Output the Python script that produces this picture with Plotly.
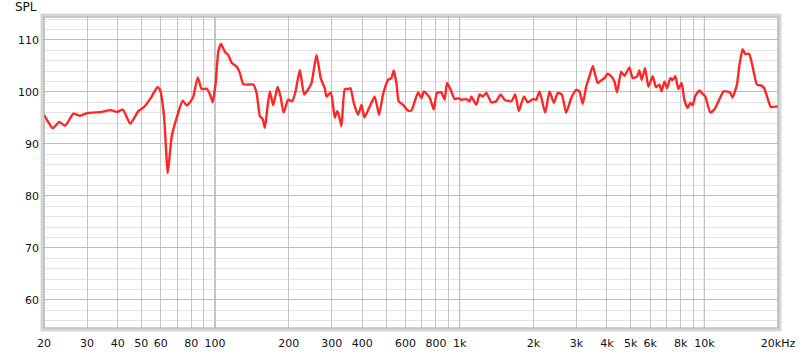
import plotly.graph_objects as go

# Frequency response readings (Hz, dB SPL)
freq_hz = [20.0, 20.7, 21.7, 23.1, 24.4, 26.4, 28.1, 29.9, 34.5, 37.3, 39.7, 42.0, 45.0, 48.6,
           51.3, 55.1, 58.1, 59.6, 61.9, 64.1, 66.5, 69.7, 73.8, 76.6, 79.0, 81.5, 85.0, 88.2,
           92.5, 95.4, 97.8, 100.6, 103.1, 105.8, 109.8, 113.3, 116.9, 122.5, 126.4, 130.4,
           134.6, 143.3, 147.9, 152.6, 156.5, 159.9, 164.0, 167.6, 172.9, 180.2, 185.3, 190.7,
           199.1, 206.7, 213.4, 222.2, 231.4, 241.8, 248.0, 260.0, 270.6, 281.0, 285.6, 297.4,
           308.8, 315.6, 320.6, 328.8, 339.2, 350.0, 357.8, 369.0, 384.4, 396.8, 408.2, 426.2,
           449.6, 468.2, 486.0, 509.4, 526.0, 537.6, 551.4, 563.4, 586.6, 614.8, 634.8, 675.6,
           697.4, 714.8, 754.0, 783.0, 807.4, 841.6, 868.2, 887.2, 916.0, 954.0, 983.8, 1016,
           1065, 1098, 1116, 1169, 1206, 1244, 1285, 1347, 1411, 1470, 1526, 1625, 1687, 1745,
           1829, 1899, 1991, 2056, 2120, 2236, 2329, 2426, 2518, 2614, 2724, 2856, 2994, 3088,
           3184, 3288, 3392, 3500, 3578, 3668, 3786, 3906, 4028, 4160, 4290, 4400, 4570, 4712,
           4940, 5094, 5310, 5426, 5546, 5724, 5906, 6150, 6348, 6548, 6692, 6864, 7040, 7262,
           7420, 7610, 7828, 8074, 8282, 8542, 8762, 8954, 9160, 9538, 9838, 10092, 10576,
           10980, 11508, 11984, 12524, 12764, 13042, 13592, 13890, 14328, 14696, 15258, 15740,
           16406, 17132, 17572, 18122, 18708, 19794, 20000]

spl_db = [95.6, 94.4, 93.0, 94.2, 93.5, 95.8, 95.4, 95.9, 96.15, 96.5, 96.15, 96.6, 93.9, 96.3,
          97.1, 99.1, 100.9, 100.4, 95.3, 84.4, 91.4, 95.0, 98.3, 97.4, 98.0, 99.1, 102.8, 100.55,
          100.6, 99.5, 98.0, 101.7, 107.7, 109.2, 107.7, 107.1, 105.6, 104.9, 103.6, 101.5,
          101.4, 101.4, 99.8, 95.3, 94.8, 93.1, 97.2, 100.1, 97.4, 101.0, 99.1, 96.0,
          98.5, 98.2, 100.1, 104.2, 99.5, 100.7, 101.7, 107.1, 102.6, 100.7, 99.1, 99.9,
          95.0, 96.3, 95.6, 93.4, 100.55, 100.55, 100.7, 97.9, 95.6, 97.5, 95.1, 96.9,
          99.1, 95.6, 99.5, 102.3, 102.65, 104.1, 101.7, 98.2, 97.5, 96.4, 96.4, 99.9,
          98.8, 100.1, 98.9, 96.6, 99.8, 99.9, 98.5, 101.7, 100.55, 98.6, 98.8, 98.5,
          98.6, 98.2, 99.1, 97.5, 99.5, 99.1, 99.8, 98.0, 98.2, 99.5, 98.5, 98.2, 99.5, 96.3,
          99.1, 98.0, 98.6, 98.5, 100.1, 96.0, 100.1, 97.9, 99.8, 99.5, 96.0, 98.8, 100.4, 100.1,
          97.7, 101.0, 103.0, 105.0, 103.3, 101.7, 102.2, 102.65, 103.5, 103.0, 102.0, 99.9, 103.9, 103.1,
          104.7, 102.65, 103.0, 104.1, 102.3, 104.6, 101.0, 103.0, 100.9, 101.4, 100.1, 102.0, 100.7, 102.65,
          102.3, 103.0, 100.55, 101.7, 98.5, 96.9, 97.9, 97.4, 99.1, 100.3, 99.6, 99.1, 96.0,
          96.6, 98.5, 100.1, 100.0, 99.8, 98.9, 101.4, 104.9, 108.2, 107.3, 107.3, 104.9,
          101.4, 101.2, 100.7, 98.8, 97.1, 97.2, 97.2]

x_tick_vals = [20, 30, 40, 50, 60, 70, 80, 90, 100, 200, 300, 400, 500, 600, 700, 800, 900,
               1000, 2000, 3000, 4000, 5000, 6000, 7000, 8000, 9000, 10000, 20000]
x_tick_text = ["20", "30", "40", "50", "60", "", "80", "", "100", "200", "300", "400", "",
               "600", "", "800", "", "1k", "2k", "3k", "4k", "5k", "6k", "", "8k", "", "10k", "20kHz"]
decade_lines = [100, 1000, 10000]
y_tick_vals = [60, 70, 80, 90, 100, 110]
y_tick_text = ["60", "70", "80", "90", "100", "110"]

fig = go.Figure()
fig.add_trace(go.Scatter(
    x=freq_hz, y=spl_db, mode="lines",
    line=dict(color="rgb(255,38,38)", width=2.4, shape="spline", smoothing=0.5),
    hoverinfo="skip", showlegend=False,
))

font = dict(family="DejaVu Sans", size=11, color="#111111")

fig.update_xaxes(
    type="log", range=[1.30103, 4.30103], automargin=False,
    tickmode="array", tickvals=x_tick_vals, ticktext=x_tick_text,
    showgrid=True, gridcolor="#c4c4c4", gridwidth=1,
    ticks="", showline=False, zeroline=False, tickfont=font, ticklabelstandoff=7,
)
fig.update_yaxes(
    range=[54.6, 114.4], automargin=False,
    tickmode="array", tickvals=y_tick_vals, ticktext=y_tick_text,
    showgrid=True, gridcolor="#bdbdbd", gridwidth=1,
    minor=dict(dtick=2, tick0=0, showgrid=True, gridcolor="#e3e3e3", gridwidth=1, ticks=""),
    ticks="", showline=False, zeroline=False, tickfont=font, ticklabelstandoff=4,
)

shapes = []
for d in decade_lines:
    shapes.append(dict(type="line", xref="x", yref="paper", x0=d, x1=d, y0=0, y1=1,
                       line=dict(color="#8a8a8a", width=1), layer="between"))
px = 1 / 734.0
py = 1 / 311.0
# inset frame: light outer band + darker inner line
shapes.append(dict(type="rect", xref="paper", yref="paper",
                   x0=-2 * px, x1=1 + 2 * px, y0=-2 * py, y1=1 + 2 * py,
                   line=dict(color="#d6d6d6", width=3), layer="above"))
shapes.append(dict(type="rect", xref="paper", yref="paper",
                   x0=0, x1=1, y0=0, y1=1,
                   line=dict(color="#a2a2a2", width=1.2), layer="above"))

fig.update_layout(
    width=800, height=353,
    margin=dict(l=44, r=22, t=17, b=25, pad=0),
    plot_bgcolor="white", paper_bgcolor="white",
    shapes=shapes,
    annotations=[dict(text="SPL", xref="paper", yref="paper", x=-5 * px, y=1 + 9.5 * py,
                      xanchor="right", yanchor="middle", showarrow=False,
                      font=dict(family="DejaVu Sans", size=12, color="#111111"))],
)

fig.write_html("out.html")
